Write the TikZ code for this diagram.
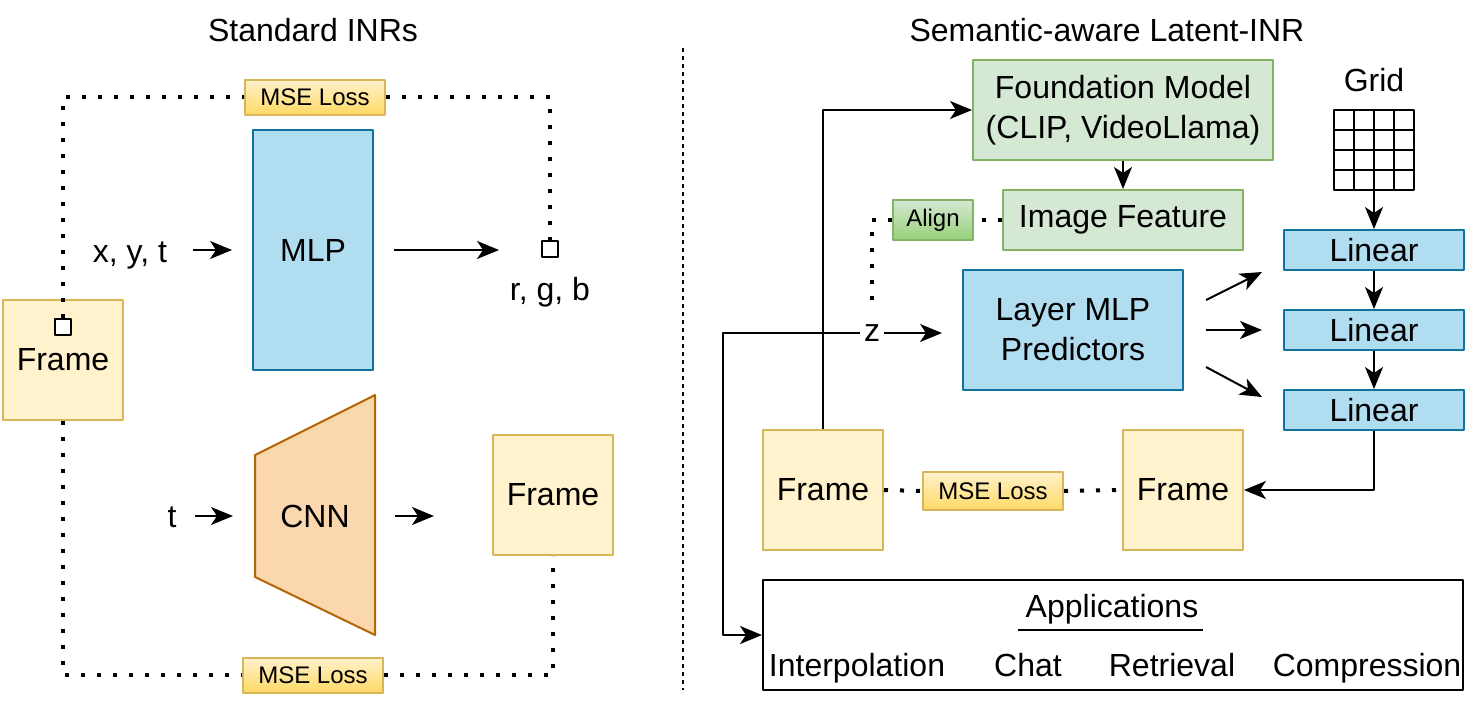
\documentclass[tikz,border=0pt]{standalone}
\usepackage{fontspec}
\setmainfont{Liberation Sans}
\usetikzlibrary{arrows.meta}
\definecolor{framefill}{HTML}{FFF2CC}
\definecolor{framedraw}{HTML}{D6B656}
\definecolor{lossbottom}{HTML}{FFD966}
\definecolor{bluefill}{HTML}{B1DDF0}
\definecolor{bluedraw}{HTML}{10739E}
\definecolor{greenfill}{HTML}{D5E8D4}
\definecolor{greendraw}{HTML}{82B366}
\definecolor{greenbottom}{HTML}{97D077}
\definecolor{cnnfill}{HTML}{FAD7AC}
\definecolor{cnndraw}{HTML}{B46504}
\tikzset{
	box/.style={draw, line width=1pt, inner sep=0pt, align=center},
	framebox/.style={box, draw=framedraw, fill=framefill, minimum width=60pt, minimum height=60pt},
	bluebox/.style={box, draw=bluedraw, fill=bluefill},
	greenbox/.style={box, draw=greendraw, fill=greenfill},
	lossbox/.style={box, draw=framedraw, top color=framefill, bottom color=lossbottom, minimum width=70pt, minimum height=17.5pt, font=\fontsize{12}{14}\selectfont},
	alignbox/.style={box, draw=greendraw, top color=greenfill, bottom color=greenbottom, minimum width=40pt, minimum height=20pt, font=\fontsize{12}{14}\selectfont},
	pixel/.style={draw, fill=white, line width=1pt, minimum size=8pt, inner sep=0pt},
	txt/.style={inner sep=2pt, anchor=base},
	lossline/.style={line width=2pt, dash pattern=on 2pt off 6pt},
	flow/.style={line width=1pt, ->},
}
\begin{document}
\begin{tikzpicture}[x=0.5pt, y=-0.5pt, line join=round, >={Stealth[length=11pt,width=9pt,inset=3pt]}, every node/.style={font=\fontsize{16}{20}\selectfont}]
	\useasboundingbox (0,0) rectangle (1467,703);
	% standard INRs
	\node[txt] (titleL) at (313,41) {Standard INRs};
	\node[lossbox] (lossT) at (315,97) {MSE Loss};
	\node[bluebox, minimum width=60pt, minimum height=120pt] (mlp) at (313,250) {MLP};
	\node[txt] (xyt) at (130,262) {x, y, t};
	\node[pixel] (pixO) at (550,249) {};
	\node[txt] (rgb) at (550,300) {r, g, b};
	\node[framebox] (frameL) at (63,360) {Frame};
	\node[pixel] (pixI) at (63,327) {};
	\draw[line width=1pt, draw=cnndraw, fill=cnnfill] (255,455) -- (375,395) -- (375,635) -- (255,577) -- cycle;
	\node[txt] (cnn) at (315,527) {CNN};
	\coordinate (cnnL) at (255,516);
	\coordinate (cnnR) at (375,516);
	\node[txt] (t) at (172,527) {t};
	\node[framebox] (frameR) at (553,495) {Frame};
	\node[lossbox] (lossB) at (313,675) {MSE Loss};
	\draw[flow, shorten <=11pt, shorten >=10pt] (xyt.east |- mlp.west) -- (mlp.west);
	\draw[flow, shorten <=10pt, shorten >=21pt] (mlp.east) -- (mlp.east -| pixO.west);
	\draw[flow, shorten <=7pt, shorten >=11pt] (t.east |- cnnL) -- (cnnL);
	\draw[flow, shorten <=10pt, shorten >=29pt] (cnnR) -- (cnnR -| frameR.west);
	\draw[lossline] (pixI.north) |- (lossT.west);
	\draw[lossline] (lossT.east) -| (pixO.north);
	\draw[lossline] (frameL.south) |- (lossB.west);
	\draw[lossline] (lossB.east) -| (frameR.south);
	% divider
	\coordinate (divT) at (683,48);
	\coordinate (divB) at (683,690);
	\draw[line width=0.75pt, dash pattern=on 2pt off 2pt] (divT) -- (divB);
	% semantic-aware latent-INR
	\node[txt] (titleR) at (1107,41) {Semantic-aware Latent-INR};
	\node[greenbox, minimum width=150pt, minimum height=50pt] (found) at (1123,110) {Foundation Model\\(CLIP, VideoLlama)};
	\node[greenbox, minimum width=120pt, minimum height=30pt] (feat) at (1123,220) {Image Feature};
	\node[alignbox] (align) at (933,220) {Align};
	\node[txt] (gridlbl) at (1374,91) {Grid};
	\node[draw, line width=1pt, minimum size=40pt, inner sep=0pt] (grid) at (1374,150) {};
	\foreach \k in {1,2,3} {
		\draw[line width=1pt] (1334+20*\k,110) -- (1334+20*\k,190);
		\draw[line width=1pt] (1334,110+20*\k) -- (1414,110+20*\k);
	}
	\foreach \n/\y in {1/250,2/330,3/410}
		\node[bluebox, minimum width=90pt, minimum height=20pt] (lin\n) at (1374,\y) {Linear};
	\node[bluebox, minimum width=110pt, minimum height=60pt] (pred) at (1073,330) {Layer MLP\\Predictors};
	\node[txt, anchor=center] (z) at (872,333) {z};
	\coordinate (zturn) at (723,333);
	\node[framebox] (frameIn) at (823,490) {Frame};
	\node[framebox] (frameOut) at (1183,490) {Frame};
	\node[lossbox, minimum height=19pt] (lossR) at (993,491) {MSE Loss};
	\node[box, minimum width=350pt, minimum height=55pt] (apps) at (1113,635) {};
	\node[txt] (appTitle) at (1112,617) {Applications};
	\draw[line width=1pt] (1018,630) -- (1203,630);
	\node[txt] (interp) at (857,676) {Interpolation};
	\node[txt] (chat) at (1028,676) {Chat};
	\node[txt] (retr) at (1172,676) {Retrieval};
	\node[txt] (compr) at (1367,676) {Compression};
	\draw[flow] (found) -- (feat);
	\draw[flow] (grid) -- (lin1);
	\draw[flow] (lin1) -- (lin2);
	\draw[flow] (lin2) -- (lin3);
	\draw[flow] (lin3.south) |- (frameOut.east);
	\draw[flow] (frameIn.north) |- (found.west);
	\draw[flow, shorten >=10pt] (z.east) -- (z.east -| pred.west);
	\draw[flow] (z.west) -- (zturn) |- (apps.west);
	\draw[flow] ([shift={(22,-30)}]pred.east) -- ([shift={(-21,22)}]lin1.west);
	\draw[flow] ([shift={(22,0)}]pred.east) -- ([shift={(-21,0)}]lin2.west);
	\draw[flow] ([shift={(22,37)}]pred.east) -- ([shift={(-21,-13)}]lin3.west);
	\draw[lossline] (feat.west) -- (align.east);
	\draw[lossline, shorten >=10pt] (align.west) -| (z.north);
	\draw[lossline] (frameIn.east) -- (lossR.west);
	\draw[lossline] (lossR.east) -- (frameOut.west);
\end{tikzpicture}
\end{document}
